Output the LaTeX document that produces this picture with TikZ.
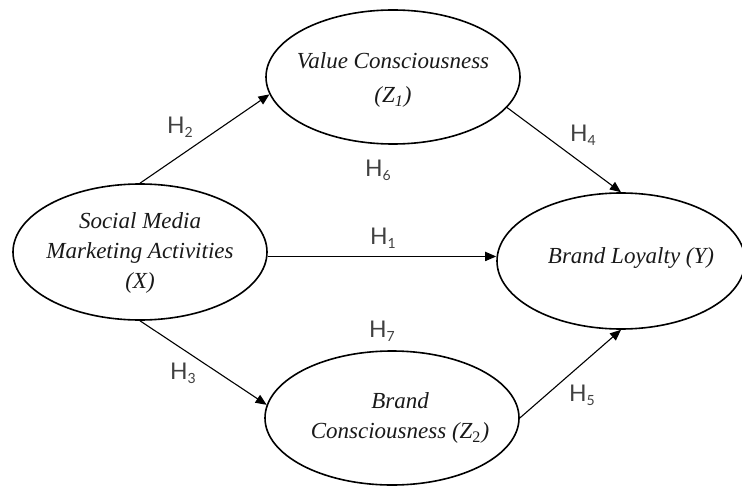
\documentclass[tikz,border=0pt]{standalone}
\usepackage{fontspec}
\setmainfont{Liberation Serif}
\newfontfamily\hfont{Lato}
\usetikzlibrary{shapes.geometric,arrows.meta}
\tikzset{
  latent/.style={draw=black, line width=0.8pt, ellipse, inner sep=0pt},
  ltext/.style={align=center, font=\fontsize{11.5}{15}\selectfont\itshape, text=black!90},
  hyp/.style={font=\hfont\fontsize{11.5}{13}\selectfont, text=black!75},
  path/.style={draw=black, line width=0.55pt, -{Triangle[length=5.5pt,width=4.6pt]}}
}
\newcommand{\hsub}[1]{H\raisebox{-0.35ex}{\fontsize{7}{8}\selectfont #1}}
\begin{document}
\begin{tikzpicture}[x=0.5pt,y=-0.5pt]
\useasboundingbox (0,0) rectangle (742,486);
% ellipses
\node[latent, minimum width=127pt, minimum height=68pt] (X) at (140,252) {};
\node[latent, minimum width=127pt, minimum height=67pt] (Z1) at (393,77) {};
\node[latent, minimum width=127pt, minimum height=67pt] (Z2) at (392,418) {};
\node[latent, minimum width=124pt, minimum height=68pt] (Y) at (621,261) {};
% ellipse texts
\node[ltext] (Xt) at (140,253) {Social Media\\Marketing Activities\\(X)};
\node[ltext, font=\fontsize{11.5}{17}\selectfont\itshape] (Z1t) at (393,80) {Value Consciousness\\(Z\textsubscript{1})};
\node[ltext] (Z2t) at (400,418) {Brand\\Consciousness (Z\textsubscript{\upshape 2})};
\node[ltext] (Yt) at (631,258) {Brand Loyalty (Y)};
% connectors
\draw[path] (X.north) -- (Z1.188);
\draw[path] (X.-2) -- (X.-2 -| Y.west);
\draw[path] (X.south) -- (Z2.174);
\draw[path] (Z1.-15) -- (Y.north);
\draw[path] (Z2.east) -- (Y.south);
% hypothesis labels
\node[hyp] (h2) at (180,127) {\hsub{2}};
\node[hyp] (h6) at (378,170) {\hsub{6}};
\node[hyp] (h4) at (583,135) {\hsub{4}};
\node[hyp] (h1) at (383,238) {\hsub{1}};
\node[hyp] (h7) at (382,331) {\hsub{7}};
\node[hyp] (h3) at (183,373) {\hsub{3}};
\node[hyp] (h5) at (582,395) {\hsub{5}};
\end{tikzpicture}
\end{document}
